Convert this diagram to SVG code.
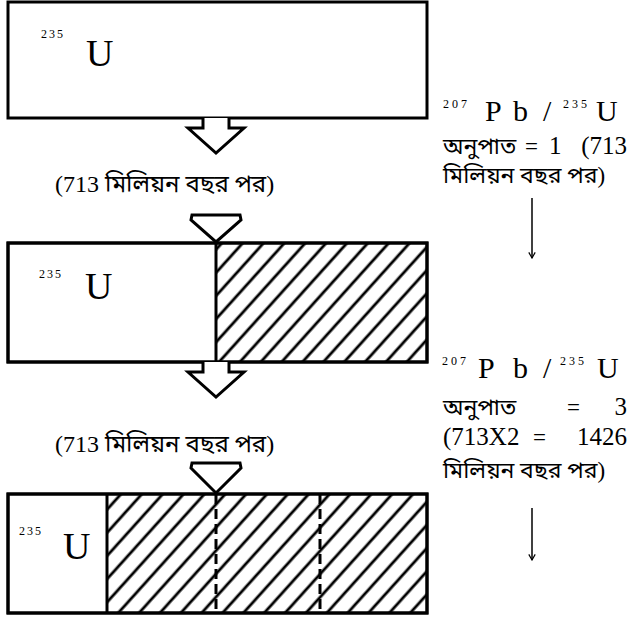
<svg xmlns="http://www.w3.org/2000/svg" width="629" height="620" viewBox="0 0 629 620">
<defs>
<pattern id="hatch" patternUnits="userSpaceOnUse" width="15.5" height="15.5" patternTransform="rotate(42)">
<line x1="2" y1="-1" x2="2" y2="17" stroke="#000" stroke-width="2.8"/>
</pattern>
<marker id="ah" viewBox="0 0 10 10" refX="9" refY="5" markerWidth="8" markerHeight="8" orient="auto" markerUnits="userSpaceOnUse">
<path d="M2,1 L9,5 L2,9" fill="none" stroke="#000" stroke-width="1.5"/>
</marker>
</defs>
<style>
.box{fill:#fff;stroke:#000;stroke-width:3}
.hat{fill:url(#hatch);stroke:none}
.div{stroke:#000;stroke-width:3}
.dash{stroke:#000;stroke-width:3;stroke-dasharray:10,5}
.arr{fill:#fff;stroke:#000;stroke-width:3;stroke-linejoin:miter}
.u{font-family:"Liberation Serif",serif;font-size:38px;fill:#000}
.sup{font-family:"Liberation Serif",serif;font-size:12px;fill:#000;letter-spacing:2px}
.t{font-family:"Liberation Serif","Noto Sans Bengali","Noto Serif Bengali","Lohit Bengali","FreeSerif",serif;font-size:24px;fill:#000}
.r{font-family:"Liberation Serif","Noto Sans Bengali","Noto Serif Bengali","Lohit Bengali","FreeSerif",serif;font-size:23px;fill:#000}
.d{font-family:"Liberation Serif",serif;font-size:25px;fill:#000}
.big{font-family:"Liberation Serif",serif;font-size:30px;fill:#000}
.s11{font-family:"Liberation Serif",serif;font-size:12px;fill:#000;letter-spacing:3px}
.thin{stroke:#000;stroke-width:1.5;fill:none}
</style>

<g id="box1">
<rect class="box" x="8" y="2" width="419" height="116"/>
<text class="sup" x="41" y="38">235</text>
<text class="u" x="86" y="66">U</text>
</g>

<g id="box2">
<rect class="box" x="8" y="243" width="419" height="119"/>
<rect class="hat" x="216" y="243" width="211" height="119"/>
<rect x="8" y="243" width="419" height="119" fill="none" stroke="#000" stroke-width="3"/>
<line class="div" x1="216" y1="243" x2="216" y2="362"/>
<text class="sup" x="39" y="278">235</text>
<text class="u" x="85" y="299">U</text>
</g>

<g id="box3">
<rect class="box" x="8" y="494" width="419" height="119"/>
<rect class="hat" x="107" y="494" width="320" height="119"/>
<rect x="8" y="494" width="419" height="119" fill="none" stroke="#000" stroke-width="3"/>
<line class="div" x1="107" y1="494" x2="107" y2="613"/>
<line class="dash" x1="216" y1="494" x2="216" y2="613"/>
<line class="dash" x1="320" y1="494" x2="320" y2="613"/>
<text class="sup" x="19" y="535">235</text>
<text class="u" x="63" y="559">U</text>
</g>

<g id="label1">
<text class="t" x="55" y="192">(713 মিলিয়ন বছর পর)</text>
</g>
<g id="label2">
<text class="t" x="55" y="452">(713 মিলিয়ন বছর পর)</text>
</g>

<g id="ratio1">
<text class="s11" x="443" y="108">207</text>
<text class="big" x="485" y="121">P</text>
<text class="big" x="513" y="121">b</text>
<text class="big" x="543" y="121">/</text>
<text class="s11" x="563" y="108">235</text>
<text class="big" x="596" y="121">U</text>
<text class="r" x="443" y="154">অনুপাত</text>
<text class="r" x="525" y="154">=</text>
<text class="d" x="549" y="154">1</text>
<text class="d" x="627" y="154" text-anchor="end">(713</text>
<text class="r" x="443" y="183">মিলিয়ন বছর পর)</text>
</g>

<g id="ratio2">
<text class="s11" x="442" y="365">207</text>
<text class="big" x="478" y="378">P</text>
<text class="big" x="513" y="378">b</text>
<text class="big" x="543" y="378">/</text>
<text class="s11" x="560" y="365">235</text>
<text class="big" x="597" y="378">U</text>
<text class="r" x="443" y="415">অনুপাত</text>
<text class="r" x="567" y="415">=</text>
<text class="d" x="627" y="415" text-anchor="end">3</text>
<text class="d" x="443" y="445">(713X2</text>
<text class="r" x="533" y="445">=</text>
<text class="d" x="627" y="445" text-anchor="end">1426</text>
<text class="r" x="443" y="478">মিলিয়ন বছর পর)</text>
</g>

<g id="connectors">
<path class="arr" d="M203,118 L203,128 L188,128 L216,153 L244,128 L229,128 L229,118"/>
<path class="arr" d="M192,215 L240,215 L241,220 L216,242 L191,220 Z"/>
<path class="arr" d="M203,362 L203,372 L188,372 L216,397 L244,372 L229,372 L229,362"/>
<path class="arr" d="M192,463 L240,463 L241,468 L216,493 L191,468 Z"/>
<line class="thin" x1="532" y1="198" x2="532" y2="258" marker-end="url(#ah)"/>
<line class="thin" x1="532" y1="508" x2="532" y2="560" marker-end="url(#ah)"/>
</g>
</svg>
